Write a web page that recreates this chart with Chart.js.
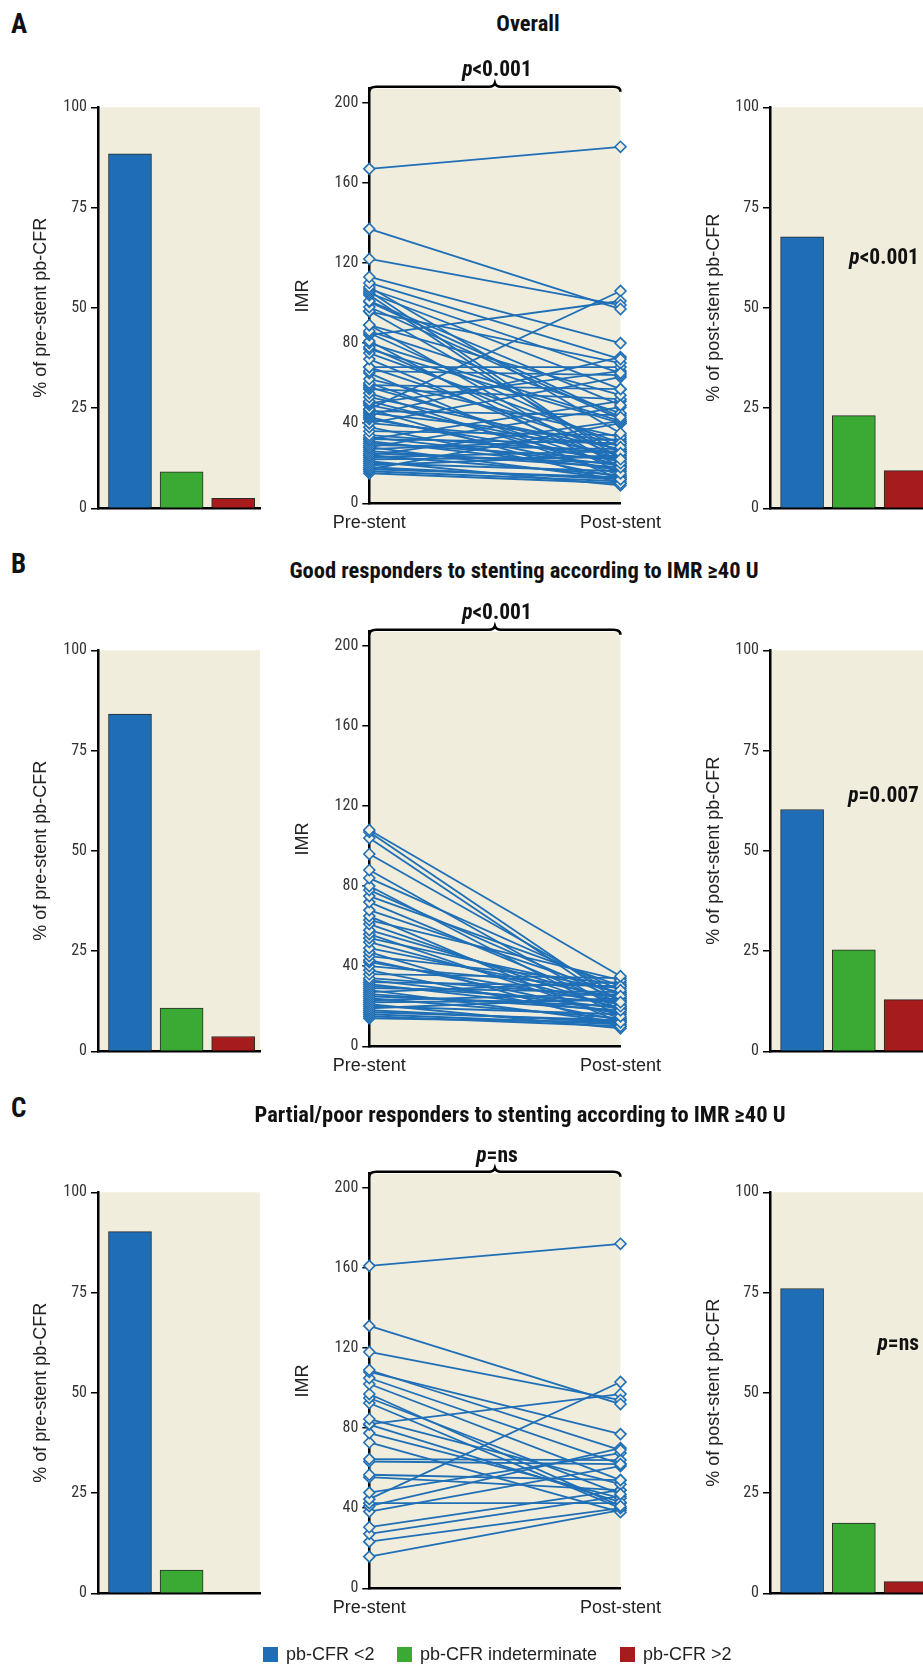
<!DOCTYPE html>
<html>
<head>
<meta charset="utf-8">
<script src="https://cdn.jsdelivr.net/npm/chart.js@4.4.1/dist/chart.umd.min.js"></script>
<style>
html, body { margin: 0; padding: 0; background: #fff; width: 923px; height: 1665px; overflow: hidden; }
body { position: relative; }
canvas { position: absolute; }
.txt { position: absolute; white-space: nowrap; color: #111; line-height: 1; }
.narrow { font-family: "Roboto Condensed", "Liberation Sans Narrow", Roboto, sans-serif; font-weight: bold; }
.sans { font-family: "Liberation Sans", Arial, sans-serif; color: #222; }
.sq { position: absolute; width: 15px; height: 15px; }
</style>
</head>
<body>
<script>
// ---- data ----
const barCats = ['pb-CFR <2', 'pb-CFR indeterminate', 'pb-CFR >2'];
const stentLabels = ['Pre-stent', 'Post-stent'];
const imrTicks = [0, 40, 80, 120, 160, 200];
const pctTicks = [0, 25, 50, 75, 100];

const panelLetters = ['A', 'B', 'C'];
const panelTitles = [
  'Overall',
  'Good responders to stenting according to IMR \u226540 U',
  'Partial/poor responders to stenting according to IMR \u226540 U'
];
const pPaired = ['<0.001', '<0.001', '=ns'];
const pPost = ['<0.001', '=0.007', '=ns'];

// % of pre-stent / post-stent pb-CFR
const preA = [88.4, 9.1, 2.5];
const postA = [67.7, 23.1, 9.4];
const preB = [84.1, 10.8, 3.7];
const postB = [60.3, 25.3, 12.9];
const preC = [90.2, 5.8, 0];
const postC = [76.0, 17.5, 2.9];

// IMR pairs: pre-stent and post-stent
const imrPreA = [167, 137, 122, 113, 110, 108, 107, 106, 105, 104, 101, 100.6, 98, 96, 95.7, 89, 89, 86, 85, 84,
  81, 80, 78, 77, 75, 72, 68, 68, 66, 65, 62, 60, 59, 58, 57, 55, 53, 51, 50, 49,
  47, 47, 46, 45, 44, 43, 42, 40, 40, 38, 36, 34, 33, 32, 32, 31, 30, 29, 28, 28,
  27, 26, 25, 24, 24, 23, 22, 21, 20, 19, 18, 17, 17, 16, 15];
const imrPostA = [178, 97, 99, 80, 72, 35, 65, 22, 57, 20, 49, 43, 42, 25, 70, 54, 18, 45, 28, 101,
  15, 41, 23, 40, 30, 20, 68, 26, 64, 12, 33, 18, 57, 22, 52, 14, 27, 19, 66, 24,
  106, 10, 44, 31, 73, 16, 21, 63, 29, 13, 34, 25, 19, 51, 30, 17, 22, 27, 48, 12,
  32, 18, 20, 41, 14, 26, 23, 9, 16, 24, 12, 40, 13, 11, 10];

const imrPreB = [108, 107, 104, 96, 88, 84, 80, 78, 75, 72, 68, 65, 63, 61, 58, 56, 54, 52, 49, 47,
  45, 43, 42, 40, 38, 36, 34, 33, 32, 31, 30, 29, 28, 27, 26, 25, 24, 23, 22, 21,
  20, 19, 18, 17, 16, 15, 14];
const imrPostB = [35, 22, 20, 25, 18, 28, 15, 23, 30, 20, 26, 12, 33, 18, 22, 14, 27, 19, 24, 10,
  31, 16, 21, 29, 13, 34, 25, 19, 30, 17, 22, 27, 12, 32, 18, 20, 14, 26, 23, 9,
  16, 24, 12, 13, 11, 10, 12];

const imrPreC = [161, 131, 118, 109, 108, 105, 102, 97, 95, 92.5, 84.5, 82, 81.7, 77.5, 72.8, 64.5, 63.3, 56.7, 55.5, 47.8,
  44.5, 42.5, 41, 38.3, 30.5, 27.2, 23.3, 15.8];
const imrPostC = [172, 92, 94, 69, 77, 62, 54, 41, 47, 40, 52, 97, 43, 45, 38, 64, 62, 54, 49, 67.5,
  103, 42.5, 70, 61, 49, 46, 40, 39];

const barSets = [[preA, postA], [preB, postB], [preC, postC]];
const imrSets = [[imrPreA, imrPostA], [imrPreB, imrPostB], [imrPreC, imrPostC]];

// ---- style ----
const TICKFONT = '"Roboto Condensed", "Liberation Sans Narrow", Roboto, sans-serif';
const SANS = '"Liberation Sans", Arial, sans-serif';
const PLOT_BG = '#f1eddc';
const LINE_BLUE = '#1f6fb7';
const BAR_COLORS = ['#1e6db5', '#3aaa35', '#a61b1b'];
const ROW_DY = [0, 543, 1085];

const plotBg = {
  id: 'plotBg',
  beforeDraw(chart) {
    const a = chart.chartArea, ctx = chart.ctx;
    ctx.save();
    ctx.fillStyle = PLOT_BG;
    ctx.fillRect(a.left, a.top, a.right - a.left, a.bottom - a.top);
    ctx.restore();
  }
};

// curly brace over the paired plot
const brace = {
  id: 'brace',
  afterDraw(chart) {
    const a = chart.chartArea, ctx = chart.ctx;
    const L = a.left, R = a.right, M = (L + R) / 2, T = a.top - 2;
    ctx.save();
    ctx.strokeStyle = '#000';
    ctx.lineWidth = 2.6;
    ctx.beginPath();
    ctx.moveTo(L, T + 5);
    ctx.quadraticCurveTo(L, T, L + 7, T);
    ctx.lineTo(M - 6, T);
    ctx.quadraticCurveTo(M - 1, T, M, T - 3.5);
    ctx.quadraticCurveTo(M + 1, T, M + 6, T);
    ctx.lineTo(R - 7, T);
    ctx.quadraticCurveTo(R, T, R, T + 5);
    ctx.stroke();
    ctx.restore();
  }
};

function addCanvas(x, y, w, h) {
  const c = document.createElement('canvas');
  c.width = w; c.height = h;
  c.style.left = x + 'px'; c.style.top = y + 'px';
  c.style.width = w + 'px'; c.style.height = h + 'px';
  document.body.appendChild(c);
  return c;
}

function addText(html, x, y, cls, size, anchor) {
  const d = document.createElement('div');
  d.className = 'txt ' + cls;
  d.innerHTML = html;
  d.style.left = x + 'px';
  d.style.top = y + 'px';
  d.style.fontSize = size + 'px';
  if (anchor === 'right') d.style.transform = 'translate(-100%,-50%)';
  else if (anchor === 'left') d.style.transform = 'translate(0,-50%)';
  else d.style.transform = 'translate(-50%,-50%)';
  document.body.appendChild(d);
}

function yAxis(max, ticks, title, width) {
  return {
    min: 0, max: max,
    afterBuildTicks: s => { s.ticks = ticks.map(v => ({ value: v })); },
    ticks: { color: '#333', font: { family: TICKFONT, size: 16 }, padding: 4 },
    grid: { drawOnChartArea: false, drawTicks: true, tickLength: 7, color: '#000', lineWidth: 1.5 },
    border: { display: true, color: '#000', width: 2.5 },
    title: { display: true, text: title, color: '#222', font: { family: SANS, size: 18 }, padding: 4 },
    afterFit: s => { s.width = width; }
  };
}

function barChart(x, y, vals, title, padL, yWidth, padR, xMax) {
  const c = addCanvas(x, y, 290, 450);
  new Chart(c, {
    type: 'bar',
    data: {
      datasets: [{
        label: title,
        data: vals.map((v, i) => ({ x: i, y: v })),
        backgroundColor: BAR_COLORS,
        borderColor: '#2b2b2b',
        borderWidth: 1,
        borderSkipped: 'bottom',
        barThickness: 43
      }]
    },
    options: {
      responsive: false, animation: false,
      layout: { padding: { left: padL, top: 27.3, right: padR, bottom: 17.7 } },
      plugins: { legend: { display: false }, tooltip: { enabled: false } },
      scales: {
        x: {
          type: 'linear', min: -0.62, max: xMax, offset: false,
          ticks: { display: false },
          grid: { display: false, drawTicks: false },
          border: { display: true, color: '#000', width: 2.5 },
          afterFit: s => { s.height = 4; }
        },
        y: yAxis(100, pctTicks, title, yWidth)
      }
    },
    plugins: [plotBg]
  });
}

function pairChart(x, y, pre, post) {
  const c = addCanvas(x, y, 390, 510);
  new Chart(c, {
    type: 'line',
    data: {
      labels: stentLabels,
      datasets: pre.map((p, i) => ({
        data: [p, post[i]],
        borderColor: LINE_BLUE,
        borderWidth: 1.8,
        pointStyle: 'rectRot',
        pointRadius: 5.5,
        pointBorderWidth: 1.6,
        pointBorderColor: LINE_BLUE,
        pointBackgroundColor: PLOT_BG,
        clip: false
      }))
    },
    options: {
      responsive: false, animation: false,
      layout: { padding: { left: 7.9, top: 48.7, right: 47.3, bottom: 6.7 } },
      plugins: { legend: { display: false }, tooltip: { enabled: false } },
      scales: {
        x: {
          offset: false,
          grid: { display: false, drawTicks: false },
          border: { display: true, color: '#000', width: 2.5 },
          ticks: { color: '#222', font: { family: SANS, size: 18 }, padding: 9, maxRotation: 0, autoSkip: false },
          afterFit: s => { s.height = 40; }
        },
        y: yAxis(207, imrTicks, 'IMR', 81.4)
      }
    },
    plugins: [plotBg, brace]
  });
}

const pMidY = [69, 612, 1155];
const pPostY = [257, 795, 1343];
const letterY = [24, 564, 1108];
const titleY = [23, 570, 1114];
const titleX = [528, 524, 520];

panelLetters.forEach((letter, r) => {
  const dy = ROW_DY[r];
  barChart(0, 80 + dy, barSets[r][0], '% of pre-stent pb-CFR', 26, 72, 30, 2.52);
  pairChart(280, 40 + dy, imrSets[r][0], imrSets[r][1]);
  barChart(660, 80 + dy, barSets[r][1], '% of post-stent pb-CFR', 38.8, 71.2, 18, 2.51);

  addText(letter, 11, letterY[r], 'narrow', 27, 'left');
  addText(panelTitles[r], titleX[r], titleY[r], 'narrow', 22.5);
  addText('<i>p</i>' + pPaired[r].replace('<', '&lt;'), 497, pMidY[r], 'narrow', 21.5);
  addText('<i>p</i>' + pPost[r].replace('<', '&lt;'), 919, pPostY[r], 'narrow', 21.5, 'right');
});

// legend
const legendX = [263, 397, 620];
barCats.forEach((cat, i) => {
  const s = document.createElement('div');
  s.className = 'sq';
  s.style.left = legendX[i] + 'px';
  s.style.top = (1654 - 7.5) + 'px';
  s.style.background = BAR_COLORS[i];
  document.body.appendChild(s);
  addText(cat.replace('<', '&lt;').replace('>', '&gt;'), legendX[i] + 23, 1654, 'sans', 18, 'left');
});
</script>
</body>
</html>
